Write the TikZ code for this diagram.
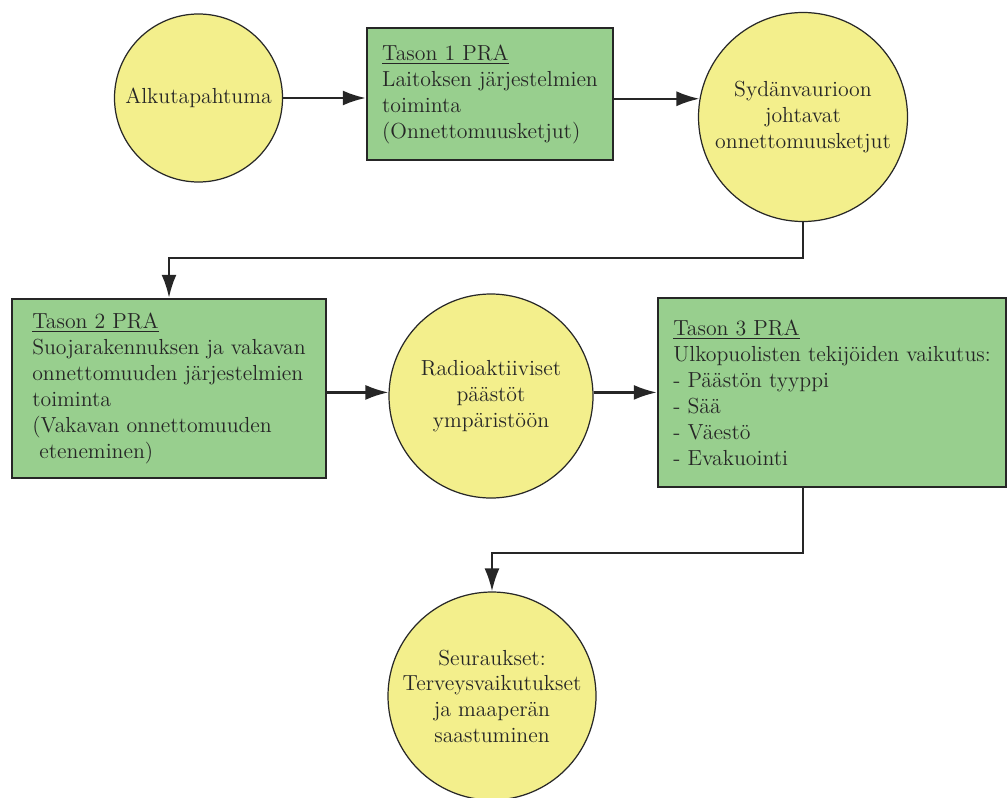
\documentclass[tikz,border=0pt]{standalone}
\usepackage{tikz}
\usetikzlibrary{arrows.meta,positioning,calc}
\usepackage{xcolor}
\definecolor{eventfill}{RGB}{243,239,140}
\definecolor{prafill}{RGB}{152,207,142}
\definecolor{inkgray}{RGB}{40,40,40}

\begin{document}
\begin{tikzpicture}[
  >=latex, line width=0.5pt,
  % event circles
  event/.style={circle, draw=inkgray, fill=eventfill, line width=0.7pt,
                align=center, inner sep=0pt, text=black!85,
                font=\fontsize{12.4}{14.6}\selectfont},
  % PRA level boxes
  prabox/.style={rectangle, draw=black!85, fill=prafill, line width=1.4pt,
                 align=left, inner sep=0pt, text=black!85,
                 font=\fontsize{12.4}{14.8}\selectfont},
  arr/.style={-{Latex[length=4.6mm, width=3mm]}, line width=1.3pt, draw=black!85}
]
  \useasboundingbox (0,0) rectangle (20.16,-15.94);

  % =============================================================
  % Row 1: initiating event -> level 1 -> core damage
  % =============================================================
  \node[event, minimum size=3.36cm] (alku) at (3.97,-1.96) {Alkutapahtuma};

  \node[prabox, minimum width=4.92cm, minimum height=2.64cm] (taso1) at (9.80,-1.88)
       {\underline{Tason 1 PRA}\\Laitoksen järjestelmien\\toiminta\\(Onnettomuusketjut)};

  \node[event, minimum size=4.18cm] (sydan) at (16.06,-2.34)
       {Sydänvaurioon\\johtavat\\onnettomuusketjut};

  \draw[arr] (alku.east) -- (alku.east -| taso1.west);
  \draw[arr] (sydan.170 -| taso1.east) -- (sydan.170);

  % =============================================================
  % Row 2: level 2 -> releases -> level 3
  % =============================================================
  \node[prabox, minimum width=6.28cm, minimum height=3.58cm] (taso2) at (3.38,-7.77)
       {\underline{Tason 2 PRA}\\Suojarakennuksen ja vakavan\\onnettomuuden järjestelmien\\toiminta\\(Vakavan onnettomuuden\\\ eteneminen)};

  \node[event, minimum size=4.08cm] (paastot) at (9.82,-7.92)
       {Radioaktiiviset\\päästöt\\ympäristöön};

  \node[prabox, minimum width=6.96cm, minimum height=3.78cm] (taso3) at (16.64,-7.85)
       {\underline{Tason 3 PRA}\\Ulkopuolisten tekijöiden vaikutus:\\- Päästön tyyppi\\- Sää\\- Väestö\\- Evakuointi};

  % core damage down to level 2
  \draw[arr] (sydan.south) -- ++(0,-0.72) -| (taso2.north);

  \draw[arr] (paastot.178 -| taso2.east) -- (paastot.178);
  \draw[arr] (paastot.2) -- (paastot.2 -| taso3.west);

  % =============================================================
  % Row 3: consequences
  % =============================================================
  \node[event, minimum size=4.16cm] (seuraus) at (9.84,-13.92)
       {Seuraukset:\\Terveysvaikutukset\\ja maaperän\\saastuminen};

  \draw[arr] ([xshift=-0.58cm]taso3.south) -- ++(0,-1.3) -| (seuraus.north);
\end{tikzpicture}
\end{document}
